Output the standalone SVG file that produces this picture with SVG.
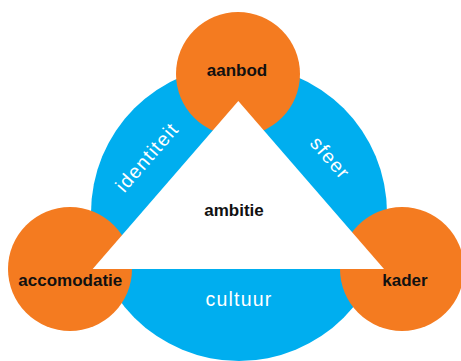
<svg xmlns="http://www.w3.org/2000/svg" width="461" height="361" viewBox="0 0 461 361">
  <style>
    .node { fill: #F47B20; }
    .label { font-family: "Liberation Sans", Arial, sans-serif; font-weight: bold; font-size: 17px; fill: #111; text-anchor: middle; }
    .edge-label { font-family: "Liberation Sans", Arial, sans-serif; font-size: 19.5px; letter-spacing: 1.2px; fill: #ffffff; text-anchor: middle; }
  </style>
  <rect width="461" height="361" fill="#ffffff"/>
  <g id="ring">
    <circle cx="239" cy="213" r="148" fill="#00AEEF"/>
  </g>
  <g id="aanbod">
    <circle class="node" cx="238" cy="74" r="62"/>
  </g>
  <g id="accomodatie">
    <circle class="node" cx="70" cy="269" r="62"/>
  </g>
  <g id="kader">
    <circle class="node" cx="402" cy="269" r="62"/>
  </g>
  <g id="ambitie">
    <polygon points="238.3,101 384,269 92.7,269" fill="#ffffff"/>
  </g>
  <g id="connectors">
    <text class="edge-label" transform="translate(152,161.6) rotate(-49)">identiteit</text>
    <text class="edge-label" transform="translate(325.2,162.3) rotate(49)">sfeer</text>
    <text class="edge-label" x="239" y="306">cultuur</text>
  </g>
  <g id="labels">
    <text class="label" x="237" y="76">aanbod</text>
    <text class="label" x="70.3" y="285.7">accomodatie</text>
    <text class="label" x="405" y="285.7">kader</text>
    <text class="label" x="234" y="216">ambitie</text>
  </g>
</svg>
